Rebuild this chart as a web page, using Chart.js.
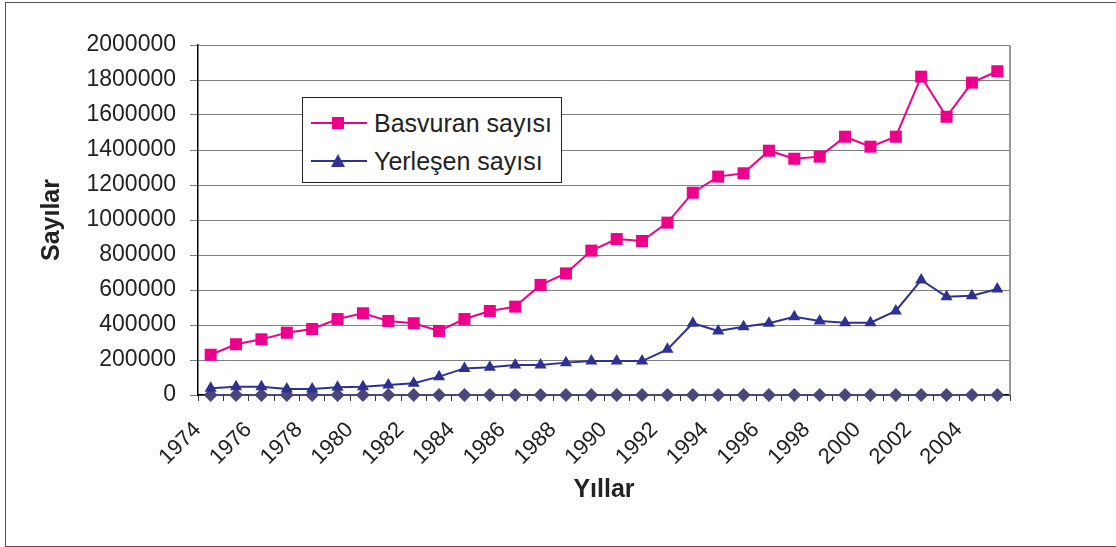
<!DOCTYPE html>
<html>
<head>
<meta charset="utf-8">
<script src="https://cdn.jsdelivr.net/npm/chart.js@4"></script>
<style>
  html, body { margin: 0; padding: 0; background: #fff; overflow: hidden; }
  #wrap { position: relative; width: 1116px; height: 547px; }
  #frame { position: absolute; left: 5px; top: 2px; width: 1200px; height: 543px; border: 1px solid #555; }
  #chart { position: absolute; left: 0; top: 0; }
  #legend {
    position: absolute; left: 302px; top: 97px; width: 258px; height: 84px;
    border: 1px solid #222; background: #fff;
    font-family: "Liberation Sans", Arial, sans-serif; font-size: 25px; color: #222;
  }
  .row { position: absolute; left: 8px; height: 30px; display: flex; align-items: center; }
  .row svg { margin-right: 7px; }
</style>
</head>
<body>
<div id="wrap">
  <div id="frame"></div>
  <canvas id="chart" width="1116" height="547"></canvas>
  <div id="legend"></div>
</div>
<script>
// Yıllar (kategori)
const years = [];
for (let y = 1974; y <= 2005; y++) years.push(String(y));

// Başvuran sayısı
const basvuran = [230000, 290000, 318000, 356000, 377000, 434000, 467000, 423000, 410000, 366000,
    434000, 480000, 505000, 629000, 695000, 825000, 891000, 880000, 985000, 1156000,
    1248000, 1267000, 1396000, 1350000, 1362000, 1476000, 1419000, 1476000, 1819000, 1590000,
    1785000, 1850000];

// Yerleşen sayısı
const yerlesen = [38000, 47000, 47000, 34000, 34000, 44000, 47000, 57000, 67000, 105000,
    152000, 158000, 171000, 171000, 185000, 194000, 194000, 194000, 261000, 410000,
    366000, 390000, 410000, 447000, 423000, 413000, 413000, 480000, 657000, 562000,
    567000, 606000];

// Üçüncü seri (hep sıfır)
const sifir = years.map(() => 0);

const pink = '#EC008C';
const navy = '#2E3192';
const slate = '#4B4778';
const FONT = '"Liberation Sans", Arial, sans-serif';

// Çizim alanının sağ kenarı
const frameLine = {
    id: 'frameLine',
    afterDraw(chart) {
        const { ctx, chartArea } = chart;
        ctx.save();
        ctx.strokeStyle = '#999';
        ctx.lineWidth = 2;
        ctx.beginPath();
        ctx.moveTo(chartArea.right, chartArea.top);
        ctx.lineTo(chartArea.right, chartArea.bottom);
        ctx.stroke();
        ctx.restore();
    }
};

const chart = new Chart(document.getElementById('chart'), {
    type: 'line',
    data: {
        labels: years,
        datasets: [
            { label: 'Basvuran sayısı', data: basvuran, borderColor: pink, backgroundColor: pink,
              borderWidth: 2, pointStyle: 'rect', pointRadius: 8.5, pointBorderWidth: 0, clip: false },
            { label: 'Yerleşen sayısı', data: yerlesen, borderColor: navy, backgroundColor: navy,
              borderWidth: 2, pointStyle: 'triangle', pointRadius: 7, pointBorderWidth: 0, clip: false },
            { label: 'Sıfır', data: sifir, borderColor: slate, backgroundColor: slate,
              borderWidth: 2, pointStyle: 'rectRot', pointRadius: 7, pointBorderWidth: 0, clip: false }
        ]
    },
    options: {
        responsive: false,
        animation: false,
        layout: { padding: { left: 0, top: 45, right: 106, bottom: 0 } },
        plugins: { legend: { display: false }, tooltip: { enabled: false } },
        scales: {
            x: {
                offset: true,
                grid: { offset: true, drawOnChartArea: false, tickLength: 6, color: '#333' },
                border: { color: '#000', width: 1.5 },
                ticks: {
                    autoSkip: false, minRotation: 45, maxRotation: 45,
                    padding: 16, labelOffset: -13,
                    color: '#222', font: { family: FONT, size: 22 },
                    callback: (v, i) => (i % 2 === 0 ? years[i] : '')
                },
                title: { display: true, text: 'Yıllar', color: '#222',
                         font: { family: FONT, size: 25, weight: 'bold' },
                         padding: { top: 42, bottom: 42 } },
                afterFit(scale) { scale.height = 152; }
            },
            y: {
                min: 0, max: 2000000,
                grid: { color: '#7f7f7f', tickLength: 8 },
                border: { color: '#000', width: 1.5 },
                ticks: {
                    stepSize: 200000, padding: 14,
                    color: '#222', font: { family: FONT, size: 23 },
                    callback: (v) => String(v)
                },
                title: { display: true, text: 'Sayılar', color: '#222',
                         font: { family: FONT, size: 25, weight: 'bold' },
                         padding: { top: 37, bottom: 37 } },
                afterFit(scale) { scale.width = 198; }
            }
        }
    },
    plugins: [frameLine]
});

// HTML lejant
const legendItems = [
    { text: 'Basvuran sayısı', color: pink, shape: 'square' },
    { text: 'Yerleşen sayısı', color: navy, shape: 'triangle' }
];
const legend = document.getElementById('legend');
legendItems.forEach((item, i) => {
    const row = document.createElement('div');
    row.className = 'row';
    row.style.top = (10 + i * 38) + 'px';
    const marker = item.shape === 'square'
        ? `<rect x="21" y="7" width="12" height="12" fill="${item.color}"/>`
        : `<polygon points="27,6 34,19 20,19" fill="${item.color}"/>`;
    row.innerHTML = `
        <svg width="56" height="26"><line x1="0" y1="13" x2="56" y2="13" stroke="${item.color}" stroke-width="2"/>${marker}</svg>
        <span>${item.text}</span>
    `;
    legend.appendChild(row);
});
</script>
</body>
</html>
